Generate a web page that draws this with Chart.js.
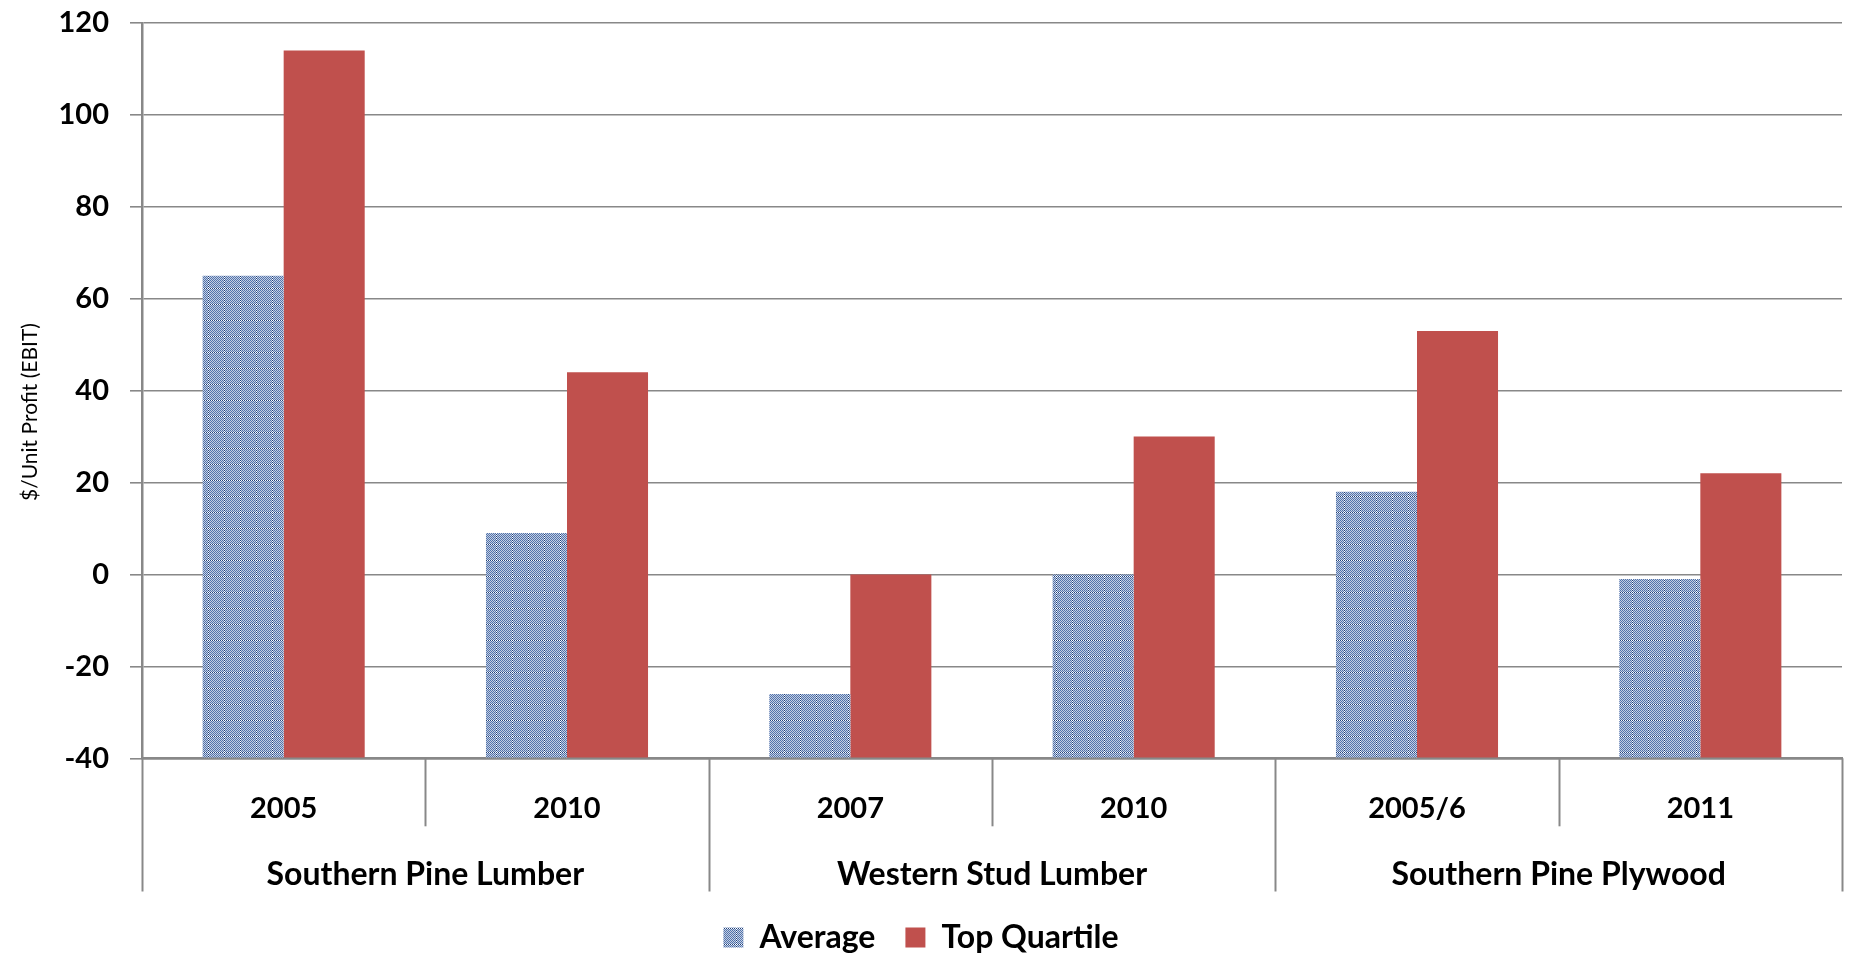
<!DOCTYPE html>
<html>
<head>
<meta charset="utf-8">
<script src="https://cdn.jsdelivr.net/npm/chart.js@4.4.1/dist/chart.umd.min.js"></script>
<style>
  html, body { margin: 0; padding: 0; background: #ffffff; }
  #wrap { width: 1849px; height: 956px; }
</style>
</head>
<body>
<div id="wrap"><canvas id="c" width="1849" height="956"></canvas></div>
<script>
// ---- data ----
const categories = ['2005', '2010', '2007', '2010', '2005/6', '2011'];
const groups = ['Southern Pine Lumber', 'Western Stud Lumber', 'Southern Pine Plywood'];
const groupSizes = [2, 2, 2];
const average = [65, 9, -26, 0, 18, -1];
const topQuartile = [114, 44, 0, 30, 53, 22];
const seriesNames = ['Average', 'Top Quartile'];
const yMin = -40, yMax = 120, yStep = 20;
const yTitle = '$/Unit Profit (EBIT)';

// ---- styles ----
const FONT = 'Lato';
const GRID = '#888888';
const RED = '#c0504d';

function makePattern() {
  const c = document.createElement('canvas');
  c.width = 16; c.height = 16;
  const g = c.getContext('2d');
  for (let y = 0; y < 16; y++) {
    for (let x = 0; x < 16; x++) {
      const odd = (x + y) % 2 === 1;
      const onGrid = (x === 0) || (y === 0);
      let col;
      if (onGrid) col = odd ? '#ffffff' : '#1f3f78';
      else col = odd ? '#c3cee3' : '#5374ab';
      g.fillStyle = col;
      g.fillRect(x, y, 1, 1);
    }
  }
  return g.createPattern(c, 'repeat');
}
const bluePattern = makePattern();

// separators of the multi-level category axis + y title
const decoPlugin = {
  id: 'deco',
  afterDraw(chart) {
    const ctx = chart.ctx;
    const xs = chart.scales.x;
    const x2 = chart.scales.x2;
    const n = categories.length;
    const step = xs.getPixelForValue(1) - xs.getPixelForValue(0);
    const start = xs.getPixelForValue(0) - step / 2;
    const groupBounds = new Set([0]);
    let acc = 0;
    groupSizes.forEach(s => { acc += s; groupBounds.add(acc); });
    ctx.save();
    ctx.strokeStyle = GRID;
    ctx.lineWidth = 2;
    for (let i = 0; i <= n; i++) {
      const px = Math.round(start + i * step) + 0.5;
      const yEnd = groupBounds.has(i) ? x2.bottom : xs.bottom - 12;
      ctx.beginPath();
      ctx.moveTo(px, xs.top);
      ctx.lineTo(px, yEnd);
      ctx.stroke();
    }
    ctx.restore();
    // y axis title
    ctx.save();
    ctx.fillStyle = '#000000';
    ctx.font = 'normal 400 21px Lato';
    ctx.textAlign = 'center';
    ctx.textBaseline = 'middle';
    ctx.translate(30, 412);
    ctx.rotate(-Math.PI / 2);
    ctx.fillText(yTitle, 0, 0);
    ctx.restore();
  }
};

new Chart(document.getElementById('c'), {
  type: 'bar',
  data: {
    labels: categories,
    datasets: [
      {
        label: seriesNames[0],
        data: average,
        backgroundColor: bluePattern,
        borderWidth: 0,
        base: yMin
      },
      {
        label: seriesNames[1],
        data: topQuartile,
        backgroundColor: RED,
        borderWidth: 0,
        base: yMin
      }
    ]
  },
  options: {
    responsive: false,
    devicePixelRatio: 1,
    animation: false,
    layout: { padding: { top: 23, right: 7, bottom: -7.5, left: 0 } },
    datasets: {
      bar: { categoryPercentage: 0.572, barPercentage: 1.0 }
    },
    scales: {
      y: {
        min: yMin,
        max: yMax,
        ticks: {
          stepSize: yStep,
          color: '#000000',
          font: { family: FONT, size: 29, weight: 'bold' },
          padding: 21
        },
        grid: {
          color: GRID,
          lineWidth: 1.6,
          drawTicks: true,
          tickLength: 12,
          tickColor: GRID
        },
        border: { display: true, color: GRID, width: 2.5 },
        afterFit(scale) {
          scale.width = 142;
          scale.paddingTop = 0;
          scale.paddingBottom = 0;
        }
      },
      x: {
        type: 'category',
        position: 'bottom',
        weight: 0,
        offset: true,
        grid: { display: false, drawTicks: false },
        border: { display: true, color: GRID, width: 2.5 },
        ticks: {
          color: '#000000',
          font: { family: FONT, size: 29, weight: 'bold' },
          padding: 32.6,
          maxRotation: 0,
          autoSkip: false
        },
        afterFit(scale) { scale.height = 80; }
      },
      x2: {
        type: 'category',
        position: 'bottom',
        weight: 1,
        labels: groups,
        offset: true,
        grid: { display: false, drawTicks: false },
        border: { display: false },
        ticks: {
          color: '#000000',
          font: { family: FONT, size: 32, weight: 'bold' },
          padding: 17.5,
          maxRotation: 0,
          autoSkip: false
        },
        afterFit(scale) { scale.height = 53.2; }
      }
    },
    plugins: {
      legend: {
        display: true,
        position: 'bottom',
        labels: {
          boxWidth: 20,
          boxHeight: 20,
          padding: 30,
          color: '#000000',
          font: { family: FONT, size: 32, weight: 'bold' }
        }
      },
      title: { display: false },
      tooltip: { enabled: false }
    }
  },
  plugins: [decoPlugin]
});
</script>
</body>
</html>
